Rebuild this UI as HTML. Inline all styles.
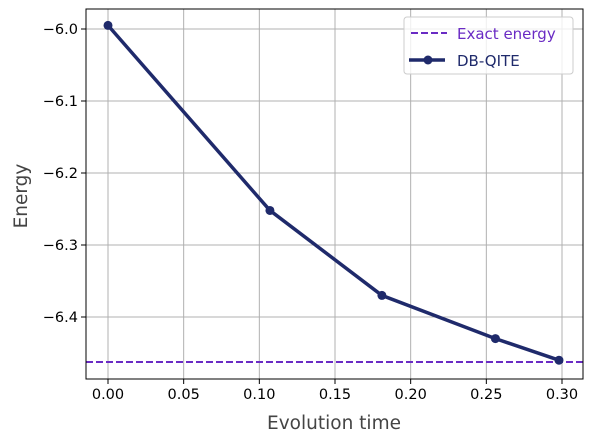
<!DOCTYPE html>
<html><head><meta charset="utf-8"><style>
body{margin:0;background:#fff;font-family:"DejaVu Sans","Liberation Sans",sans-serif}
</style></head><body>
<svg id="c" width="591" height="442" xmlns="http://www.w3.org/2000/svg"></svg>
<script>
const xTicks=[0,0.05,0.10,0.15,0.20,0.25,0.30];
const xTickLabels=["0.00","0.05","0.10","0.15","0.20","0.25","0.30"];
const yTicks=[-6.0,-6.1,-6.2,-6.3,-6.4];
const yTickLabels=["−6.0","−6.1","−6.2","−6.3","−6.4"];
const times=[0,0.107,0.181,0.256,0.298];
const energies=[-5.995,-6.252,-6.370,-6.430,-6.460];
const exactEnergy=-6.4625;
const L=86,R=583,T=9,B=379;
const xs=v=>108+(v/0.30)*454;
const ys=v=>29+(-6.0-v)/0.1*72;
const svg=document.getElementById('c');
const NS="http://www.w3.org/2000/svg";
function mk(tag,attrs,name,txt){const e=document.createElementNS(NS,tag);for(const k in attrs)e.setAttribute(k,attrs[k]);


if(txt!==undefined)e.textContent=txt;svg.appendChild(e);return e;}
xTicks.forEach((t,i)=>{const x=xs(t);
mk('line',{x1:x,x2:x,y1:T,y2:B,stroke:'#b0b0b0','stroke-width':1},'x-gridline');
mk('line',{x1:x,x2:x,y1:B,y2:B+5,stroke:'#000','stroke-width':1},'x-tick');
mk('text',{x:x,y:B+20,'font-size':14.5,'text-anchor':'middle',fill:'#000'},'x-tick-label',xTickLabels[i]);});
yTicks.forEach((t,i)=>{const y=ys(t);
mk('line',{x1:L,x2:R,y1:y,y2:y,stroke:'#b0b0b0','stroke-width':1},'y-gridline');
mk('line',{x1:L-5,x2:L,y1:y,y2:y,stroke:'#000','stroke-width':1},'y-tick');
mk('text',{x:L-8,y:y+5,'font-size':14.5,'text-anchor':'end',fill:'#000'},'y-tick-label',yTickLabels[i]);});
mk('line',{x1:L,x2:R,y1:ys(exactEnergy),y2:ys(exactEnergy),stroke:'#6a2bc4','stroke-width':2,'stroke-dasharray':'7,3'},'exact-energy-line');
mk('polyline',{points:times.map((t,i)=>xs(t)+','+ys(energies[i])).join(' '),fill:'none',stroke:'#1f2a6b','stroke-width':3.5},'db-qite-line');
times.forEach((t,i)=>mk('circle',{cx:xs(t),cy:ys(energies[i]),r:4.5,fill:'#1f2a6b'},'db-qite-point'));
mk('rect',{x:L,y:T,width:R-L,height:B-T,fill:'none',stroke:'#000','stroke-width':1},'plot-frame');
mk('rect',{x:404,y:17,width:169,height:57,rx:3,fill:'#fff','fill-opacity':0.8,stroke:'#ccc'},'legend-box');
mk('line',{x1:411,x2:447,y1:33,y2:33,stroke:'#6a2bc4','stroke-width':2,'stroke-dasharray':'7,3'},'legend-exact-swatch');
mk('text',{x:457,y:39,'font-size':15,fill:'#6a2bc4'},'legend-exact-label','Exact energy');
mk('line',{x1:409,x2:445,y1:60,y2:60,stroke:'#1f2a6b','stroke-width':3.5},'legend-dbqite-swatch');
mk('circle',{cx:428,cy:60,r:4.5,fill:'#1f2a6b'},'legend-dbqite-marker');
mk('text',{x:457,y:66,'font-size':15,fill:'#1f2a6b'},'legend-dbqite-label','DB-QITE');
mk('text',{x:334,y:429,'font-size':18.5,'text-anchor':'middle',fill:'#444'},'x-axis-title','Evolution time');
mk('text',{x:27,y:196,'font-size':18.5,'text-anchor':'middle',fill:'#444',transform:'rotate(-90 27 196)'},'y-axis-title','Energy');
</script>
</body></html>
